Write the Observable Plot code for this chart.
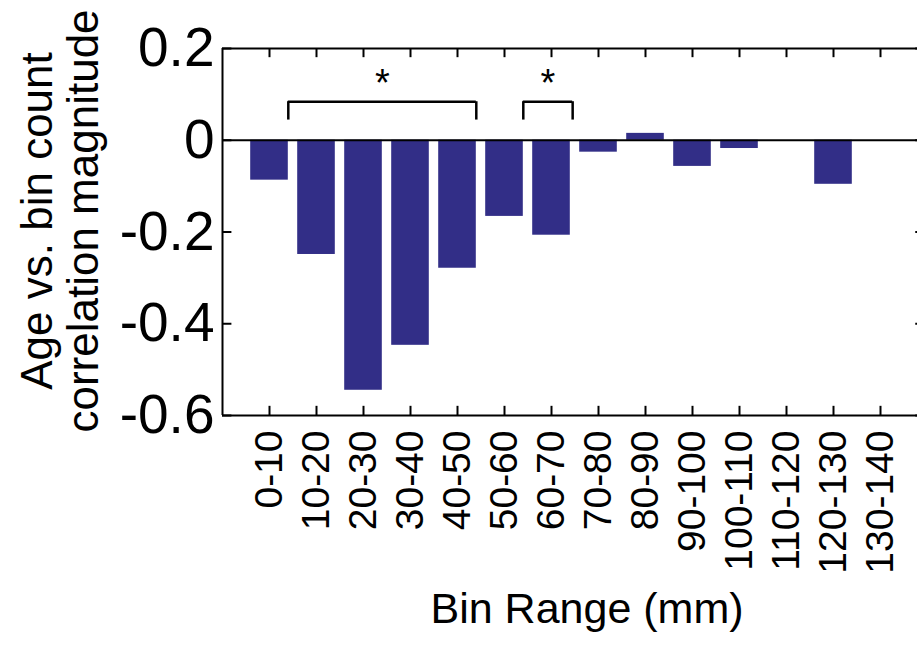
<!DOCTYPE html>
<html>
<head>
<meta charset="utf-8">
<script src="https://cdn.jsdelivr.net/npm/d3@7"></script>
<script src="https://cdn.jsdelivr.net/npm/@observablehq/plot@0.6"></script>
<style>
  html, body { margin: 0; padding: 0; background: #fff; overflow: hidden; }
  #chart svg { overflow: hidden; }
</style>
</head>
<body>
<div id="chart"></div>
<script>
// ---- data ----
const bins = ["0-10", "10-20", "20-30", "30-40", "40-50", "50-60", "60-70",
              "70-80", "80-90", "90-100", "100-110", "110-120", "120-130", "130-140"];
const correlations = [-0.087, -0.249, -0.545, -0.447, -0.279, -0.166, -0.207,
                      -0.026, 0.015, -0.057, -0.018, 0, -0.096, 0];
const yTicks = [0.2, 0, -0.2, -0.4, -0.6];
const yTickLabels = ["0.2", "0", "-0.2", "-0.4", "-0.6"];
// significance brackets (in bar-position units, bar i at position i+1)
const bracketFrom = [1.4, 6.4];
const bracketTo = [5.4, 7.45];
const bracketLabels = ["*", "*"];
const bracketTop = 0.084;
const bracketFoot = 0.044;
const starLevel = 0.122;

// ---- build ----
const positions = bins.map((b, i) => i + 1);
const bars = bins.map((b, i) => ({pos: i + 1, bin: b, value: correlations[i]}));
const brackets = bracketFrom.map((f, i) => ({from: f, to: bracketTo[i], label: bracketLabels[i]}));

const barColor = "#322e87";
const font = "'Liberation Sans', Arial, Helvetica, sans-serif";

const chart = Plot.plot({
  width: 917,
  height: 654,
  marginLeft: 222,
  marginRight: 0,
  marginTop: 48,
  marginBottom: 239,
  style: {fontFamily: font, color: "#000", background: "#fff"},
  x: {domain: [0, 15], range: [222, 927]},
  y: {domain: [-0.6, 0.2]},
  marks: [
    Plot.rectY(bars, {x1: d => d.pos - 0.4, x2: d => d.pos + 0.4, y1: 0, y2: "value", fill: barColor}),
    // box lines
    Plot.ruleY([0.2, -0.6], {stroke: "#000", strokeWidth: 2}),
    Plot.ruleX([0], {stroke: "#000", strokeWidth: 2}),
    Plot.ruleY([0], {stroke: "#000", strokeWidth: 2}),
    // inward ticks
    Plot.ruleX(positions, {x: d => d, y1: -0.6, y2: -0.58, stroke: "#000", strokeWidth: 2}),
    Plot.ruleX(positions, {x: d => d, y1: 0.2, y2: 0.18, stroke: "#000", strokeWidth: 2}),
    Plot.ruleY(yTicks, {y: d => d, x1: 0, x2: 0.2, stroke: "#000", strokeWidth: 2}),
    Plot.ruleY(yTicks, {y: d => d, x1: 15, x2: 14.75, stroke: "#000", strokeWidth: 2}),
    // axes labels
    Plot.axisY({ticks: yTicks, tickFormat: d => yTickLabels[yTicks.indexOf(d)], tickSize: 0, tickPadding: 8, fontSize: 55, label: null}),
    Plot.axisX({ticks: positions, tickFormat: d => bins[d - 1], tickRotate: -90, tickSize: 0, tickPadding: 15, fontSize: 39, label: null}),
    // significance brackets
    Plot.ruleY(brackets, {y: bracketTop, x1: "from", x2: "to", stroke: "#000", strokeWidth: 2.5}),
    Plot.ruleX(brackets, {x: "from", y1: bracketFoot, y2: bracketTop, stroke: "#000", strokeWidth: 2.5}),
    Plot.ruleX(brackets, {x: "to", y1: bracketFoot, y2: bracketTop, stroke: "#000", strokeWidth: 2.5}),
    Plot.text(brackets, {x: d => (d.from + d.to) / 2, y: starLevel, text: "label", fontSize: 38, fill: "#000"}),
    // titles
    Plot.text(["Bin Range (mm)"], {frameAnchor: "bottom", dx: 17, dy: 207, fontSize: 43, fill: "#000"}),
    Plot.text(["Age vs. bin count\ncorrelation magnitude"], {frameAnchor: "left", textAnchor: "middle", lineAnchor: "middle", rotate: -90, dx: -162, dy: -11, fontSize: 44, lineHeight: 1.045, fill: "#000"})
  ]
});
document.getElementById("chart").appendChild(chart);
</script>
</body>
</html>
